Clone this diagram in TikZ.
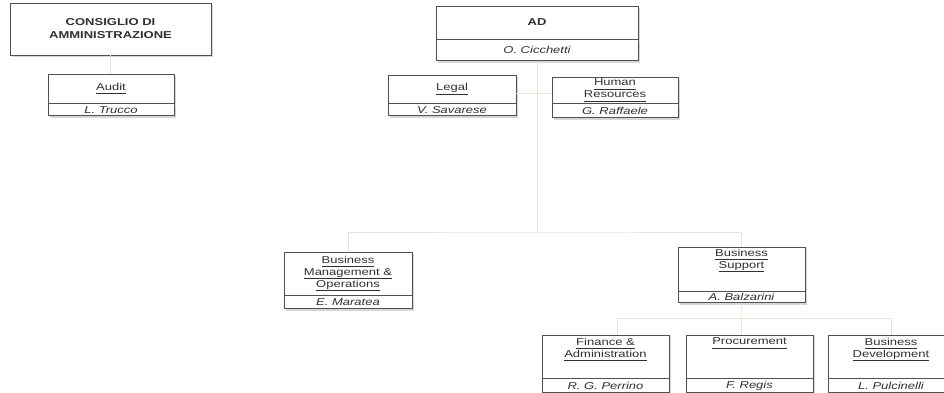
\documentclass[tikz,border=0pt]{standalone}
\usepackage{fontspec}
\setmainfont{Liberation Sans}[FakeStretch=1.3]
\usetikzlibrary{positioning,shadows}

\definecolor{boxline}{HTML}{505050}
\definecolor{linkline}{HTML}{E9E5D6}
\definecolor{orgtext}{HTML}{303030}
\newcommand{\orgul}[1]{\underline{#1\vphantom{g}}}

\tikzset{
	unit/.style={draw=boxline, line width=0.8pt, fill=white, text=orgtext, inner sep=0pt, align=center,
		drop shadow={shadow xshift=1.8pt, shadow yshift=-1.8pt, fill=black!16, opacity=1},
		font=\fontsize{10}{12}\selectfont},
	who/.style={unit, anchor=north, font=\fontsize{10}{12}\selectfont\itshape},
	caption/.style={anchor=north, inner sep=0pt, align=center, text=orgtext, font=\fontsize{10}{12}\selectfont},
	link/.style={draw=linkline, line width=0.9pt},
}

\begin{document}
\begin{tikzpicture}[x=1pt, y=-1pt]
		\clip (0,0) rectangle (944,392);
		% board and audit
		\node[unit, minimum width=201pt, minimum height=52pt, font=\fontsize{10}{13}\selectfont\bfseries] (cda) at (110.5,29) {CONSIGLIO DI\\AMMINISTRAZIONE};
		\node[unit, minimum width=126pt, minimum height=29pt] (audit) at (111,88.5) {\orgul{Audit}};
		\node[who, minimum width=126pt, minimum height=12pt] (auditn) at (audit.south) {L. Trucco};
		
		% AD and staff
		\node[unit, minimum width=202pt, minimum height=33pt, font=\fontsize{10}{12}\selectfont\bfseries] (ad) at (537,22.5) {AD};
		\node[who, minimum width=202pt, minimum height=21pt] (adn) at (ad.south) {O. Cicchetti};
		\node[unit, minimum width=128pt, minimum height=28pt] (legal) at (452,89) {\orgul{Legal}};
		\node[who, minimum width=128pt, minimum height=12pt] (legaln) at (legal.south) {V. Savarese};
		\node[unit, minimum width=126pt, minimum height=26pt] (hr) at (615,90) {\orgul{Human}\\\orgul{Resources}};
		\node[who, minimum width=126pt, minimum height=14pt] (hrn) at (hr.south) {G. Raffaele};
		
		% first line
		\node[unit, minimum width=128pt, minimum height=43pt] (bmo) at (348,273.5) {\orgul{Business}\\\orgul{Management \&}\\\orgul{Operations}};
		\node[who, minimum width=128pt, minimum height=13pt] (bmon) at (bmo.south) {E. Maratea};
		\node[unit, minimum width=127pt, minimum height=44pt] (bs) at (741.5,269) {};
		\node[caption] (bst) at ([yshift=-2pt]bs.north) {\orgul{Business}\\\orgul{Support}};
		\node[who, minimum width=127pt, minimum height=11pt] (bsn) at (bs.south) {A. Balzarini};
		
		% business support units
		\node[unit, minimum width=127pt, minimum height=43pt] (fin) at (605.5,356.5) {};
		\node[caption] (fint) at ([yshift=-3pt]fin.north) {\orgul{Finance \&}\\\orgul{Administration}};
		\node[who, minimum width=127pt, minimum height=14pt] (finn) at (fin.south) {R. G. Perrino};
		\node[unit, minimum width=127pt, minimum height=43pt] (proc) at (749.5,356.5) {};
		\node[caption] (proct) at ([yshift=-3pt]proc.north) {\orgul{Procurement}};
		\node[who, minimum width=127pt, minimum height=14pt] (procn) at (proc.south) {F. Regis};
		\node[unit, minimum width=126pt, minimum height=43pt] (bdev) at (891,356.5) {};
		\node[caption] (bdevt) at ([yshift=-3pt]bdev.north) {\orgul{Business}\\\orgul{Development}};
		\node[who, minimum width=126pt, minimum height=14pt] (bdevn) at (bdev.south) {L. Pulcinelli};
		
		\coordinate (staff) at (537,93);
		\coordinate (opsbar) at (537,232);
		\coordinate (supbar) at (741,318);
		
		\draw[link] (cda.south) -- (cda.south |- audit.north);
		\draw[link] (adn.south) -- (opsbar);
		\draw[link] (legal.east |- staff) -- (hr.west |- staff);
		\draw[link] (bmo.north) |- (opsbar) -| (bs.north);
		\draw[link] (bsn.south) -- (supbar);
		\draw[link] ([xshift=11.5pt]fin.north) |- (supbar) -| (bdev.north);
		\draw[link] (supbar) -- (supbar |- proc.north);
	\end{tikzpicture}
\end{document}
